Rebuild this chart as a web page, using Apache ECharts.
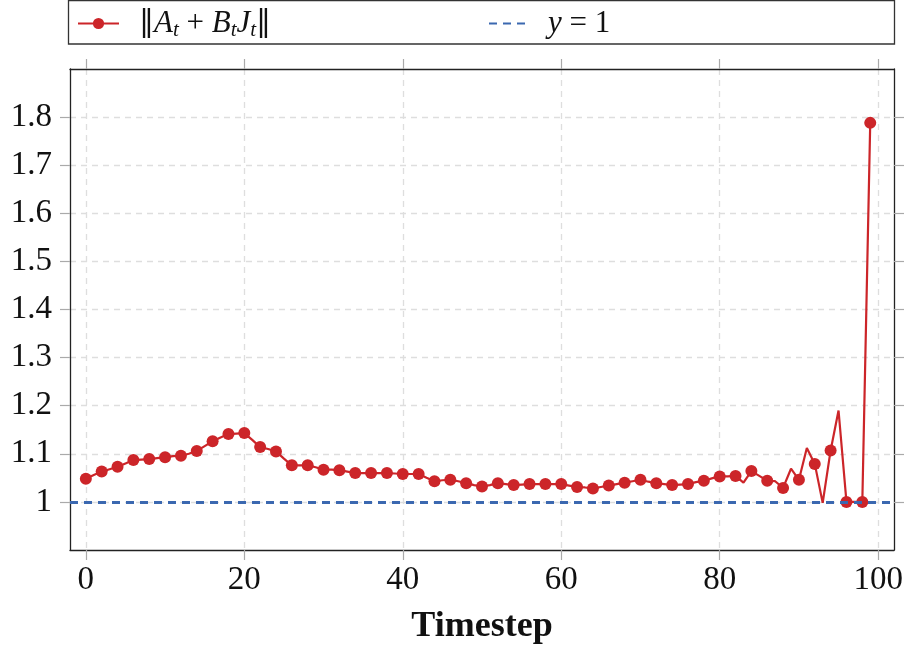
<!DOCTYPE html>
<html>
<head>
<meta charset="utf-8">
<script src="https://cdn.jsdelivr.net/npm/echarts@6/dist/echarts.min.js"></script>
<style>html,body{margin:0;padding:0;background:#fff}#c{width:912px;height:650px}</style>
</head>
<body>
<div id="c"></div>
<script>
const timesteps = [0,1,2,3,4,5,6,7,8,9,10,11,12,13,14,15,16,17,18,19,20,21,22,23,24,25,26,27,28,29,30,31,32,33,34,35,36,37,38,39,40,41,42,43,44,45,46,47,48,49,50,51,52,53,54,55,56,57,58,59,60,61,62,63,64,65,66,67,68,69,70,71,72,73,74,75,76,77,78,79,80,81,82,83,84,85,86,87,88,89,90,91,92,93,94,95,96,97,98,99];
const normValues = [
  1.048,1.056,1.063,1.068,1.073,1.080,1.087,1.088,1.089,1.091,
  1.093,1.095,1.096,1.100,1.106,1.116,1.126,1.134,1.141,1.142,
  1.143,1.129,1.114,1.110,1.105,1.090,1.076,1.076,1.076,1.072,
  1.067,1.067,1.066,1.063,1.060,1.060,1.060,1.060,1.060,1.059,
  1.058,1.058,1.058,1.050,1.043,1.045,1.046,1.043,1.039,1.035,
  1.032,1.035,1.039,1.037,1.035,1.036,1.037,1.037,1.037,1.037,
  1.037,1.034,1.031,1.030,1.028,1.031,1.034,1.037,1.040,1.043,
  1.046,1.042,1.039,1.037,1.035,1.036,1.037,1.041,1.044,1.049,
  1.053,1.053,1.054,1.040,1.064,1.054,1.044,1.043,1.029,1.069,
  1.046,1.112,1.079,0.998,1.107,1.190,1.000,1.000,1.000,1.788
];
const referenceValue = 1;
const xTicks = [0, 20, 40, 60, 80, 100];
const yTicks = [1, 1.1, 1.2, 1.3, 1.4, 1.5, 1.6, 1.7, 1.8];
const seriesNames = ['norm', 'ref'];

const RED = '#cc2529';
const BLUE = '#3b68b0';
const FONT = '"Liberation Serif", "DejaVu Serif", serif';
const GRID_COLOR = '#dedede';
const TICK_COLOR = '#aaaaaa';

function isMarked(i) { return i % 2 === 0 || i === timesteps.length - 1; }

const chart = echarts.init(document.getElementById('c'), null, {renderer: 'canvas'});

const LH = 34;
const richBase = {
  b: {fontFamily: '"DejaVu Serif", serif', fontSize: 30, color: '#111', lineHeight: LH},
  p: {fontFamily: '"DejaVu Serif", serif', fontSize: 30, color: '#111', lineHeight: LH, padding: [0, 0, 0, 15]},
  n: {fontFamily: FONT, fontSize: 31, color: '#111', lineHeight: LH},
  i: {fontFamily: FONT, fontSize: 31, fontStyle: 'italic', color: '#111', lineHeight: LH},
  s: {fontFamily: FONT, fontSize: 21, fontStyle: 'italic', color: '#111', lineHeight: 16, verticalAlign: 'bottom'},
  g: {fontFamily: FONT, fontSize: 31, color: '#111', lineHeight: LH, padding: [0, 0, 0, 17]}
};

const axisLineStyle = {show: true, onZero: false, lineStyle: {color: '#222', width: 1.3}};
const commonX = {
  type: 'value', min: -2, max: 102, minInterval: 20, maxInterval: 20,
  axisLine: axisLineStyle,
  splitLine: {show: true, lineStyle: {color: GRID_COLOR, type: [6, 5], width: 1.3}},
  axisTick: {show: true, inside: false, length: 10, customValues: xTicks, lineStyle: {color: TICK_COLOR, width: 1.2}}
};
const commonY = {
  type: 'value', min: 0.9, max: 1.9, interval: 0.1,
  axisLine: axisLineStyle,
  splitLine: {show: true, lineStyle: {color: GRID_COLOR, type: [6, 5], width: 1.3}},
  axisTick: {show: true, inside: false, length: 10, customValues: yTicks, lineStyle: {color: TICK_COLOR, width: 1.2}}
};

const option = {
  backgroundColor: '#fff',
  animation: false,
  grid: {left: 70, right: 18, top: 69, bottom: 100, show: false, containLabel: false, outerBoundsMode: 'none'},
  graphic: [{
    type: 'rect', z: 100, silent: true,
    shape: {x: 68.5, y: 0.5, width: 826, height: 43.5},
    style: {fill: 'none', stroke: '#333', lineWidth: 1.3}
  }],
  legend: [{
    data: [seriesNames[0]], left: 77, top: 8, padding: 0,
    itemWidth: 41, itemHeight: 14,
    formatter: () => '{p|‖}{i|A}{s|t}{n| + }{i|B}{s|t}{i|J}{s|t}{b|‖}',
    textStyle: {rich: richBase}
  }, {
    data: [seriesNames[1]], left: 488, top: 8, padding: 0,
    itemWidth: 37, itemHeight: 14,
    itemStyle: {color: 'transparent', borderWidth: 0, opacity: 0},
    formatter: () => '{g|}{i|y}{n| = 1}',
    textStyle: {rich: richBase}
  }],
  xAxis: [Object.assign({}, commonX, {
    position: 'bottom',
    name: 'Timestep', nameLocation: 'middle', nameGap: 59,
    nameTextStyle: {fontFamily: FONT, fontWeight: 'bold', fontSize: 36, color: '#111'},
    axisLabel: {
      margin: 14, fontFamily: FONT, fontSize: 33, color: '#111',
      formatter: v => xTicks.indexOf(Math.round(v)) >= 0 && Math.abs(v - Math.round(v)) < 1e-6 ? String(Math.round(v)) : ''
    }
  }), Object.assign({}, commonX, {
    position: 'top', axisLabel: {show: false}, splitLine: {show: false}
  })],
  yAxis: [Object.assign({}, commonY, {
    position: 'left',
    axisLabel: {
      margin: 18, fontFamily: FONT, fontSize: 33, color: '#111',
      formatter: v => {
        const r = Math.round(v * 10) / 10;
        return yTicks.some(t => Math.abs(t - r) < 1e-6) ? String(+r.toFixed(1)) : '';
      }
    }
  }), Object.assign({}, commonY, {
    position: 'right', axisLabel: {show: false}, splitLine: {show: false}
  })],
  series: [{
    name: seriesNames[1], type: 'line', data: [], symbol: 'none', z: 2,
    lineStyle: {color: BLUE, width: 3, type: [8, 6]},
    itemStyle: {color: BLUE},
    markLine: {
      silent: true, symbol: ['none', 'none'], label: {show: false},
      lineStyle: {color: BLUE, width: 3, type: [8, 6]},
      data: [{yAxis: referenceValue}]
    }
  }, {
    name: seriesNames[0], type: 'line', z: 3,
    data: timesteps.map((t, i) => [t, normValues[i]]),
    symbol: 'circle',
    symbolSize: (v, p) => isMarked(p.dataIndex) ? 12 : 0,
    showSymbol: true,
    lineStyle: {color: RED, width: 2.2},
    itemStyle: {color: RED}
  }]
};
chart.setOption(option);
</script>
</body>
</html>
